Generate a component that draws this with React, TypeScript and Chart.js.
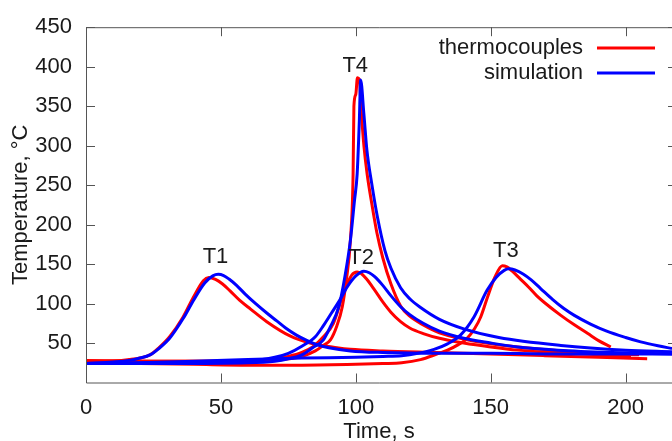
import React, { useEffect, useRef } from "react";
import { Chart, registerables } from "chart.js";

Chart.register(...registerables);

const FONT = '"Liberation Sans", Arial, Helvetica, sans-serif';
const TEXT = "#1a1a1a";
const FRAME = "#555555";

// axis ticks
const xTicks = [0, 50, 100, 150, 200];
const yTicks = [50, 100, 150, 200, 250, 300, 350, 400, 450];

// legend names
const seriesNames = ["thermocouples", "simulation"];
const seriesColors = ["#ff0000", "#0000ff"];

// annotation labels (data coordinates)
const annoNames = ["T1", "T2", "T3", "T4"];
const annoT = [48, 102, 155.6, 99.8];
const annoV = [159, 158, 166, 401];

// thermocouples (red)
const tRed1 = [0, 10, 16, 20, 23.7, 27, 31, 36, 39.8, 43.5, 45.5, 48, 50.5, 53.4, 57, 61, 67, 75.6, 83, 93, 98, 110, 130, 150, 170, 190, 208];
const vRed1 = [27, 27, 29, 31, 35, 44, 58, 83, 108, 129, 133, 130.5, 125, 116, 104, 93, 77, 59, 50, 44, 42, 40, 38, 36, 34, 32, 30];

const tRed2 = [0, 30, 60, 70, 75, 80, 84, 88, 91.7, 95.4, 98.5, 100.5, 102, 104, 107, 110, 113, 116.6, 120, 125, 131, 140, 150, 160, 180, 202];
const vRed2 = [27, 27, 28, 30, 33, 38, 45, 58, 75, 113, 136, 140, 138, 131, 117, 102, 89, 77, 69, 62, 56, 50, 45, 41, 37, 33];

const tRed3 = [0, 20, 40, 60, 80, 100, 110, 117, 124, 130, 134, 138, 141, 144, 146.3, 149, 151.5, 154.3, 156, 158, 161, 164, 167, 170, 176, 181, 186, 190, 194.5];
const vRed3 = [25, 24, 23, 22, 22, 23, 24, 25, 29, 36, 41, 48, 55, 68, 83, 110, 133, 148, 146.5, 141, 131, 121, 110, 101, 85, 73, 62, 53, 45];

const tRed4 = [0, 30, 60, 70, 75, 80, 85, 88, 90.6, 93, 95, 96.5, 98, 99, 99.3, 100, 100.6, 101.3, 102, 103, 104.2, 106, 107.8, 110, 113, 116.6, 120, 125, 131, 140, 150, 160, 180, 205];
const vRed4 = [28, 27, 27, 28, 30, 33, 40, 47, 54, 72, 96, 130, 180, 264, 350, 365, 386, 384, 345, 300, 264, 225, 190, 158, 125, 97, 84, 73, 63, 55, 49, 45, 39, 35];

// simulation (blue)
const tBlue1 = [0, 10, 16, 20, 23.7, 27, 31, 36, 40, 44, 47, 49, 51, 53, 55.8, 59, 63, 67, 70.7, 74, 78, 82, 85.5, 90, 98, 110, 130, 150, 180, 217.2];
const vBlue1 = [24, 26, 28, 31, 35, 43, 56, 81, 105, 126, 135, 137, 135.5, 131, 123, 112, 99.5, 88, 78, 69, 60, 53, 48, 44, 40, 38, 37, 37, 36, 36];

const tBlue2 = [0, 30, 60, 70, 75, 80, 85, 88, 91, 94, 97, 100, 103, 105, 107, 110, 113, 116.6, 120, 125, 131, 140, 150, 160, 175, 195, 217.2];
const vBlue2 = [24, 25, 27, 32, 37, 46, 58, 72, 88, 104, 122, 135, 141, 139, 134, 123, 110, 96, 86, 75, 65, 56, 50, 45, 41, 38, 36];

const tBlue3 = [0, 20, 40, 60, 80, 100, 110, 117, 123, 129, 134, 138.8, 143.8, 148.7, 152, 155, 156.8, 159, 162, 165, 168.5, 173, 177, 181, 187, 193, 200, 205.6, 212, 217.2];
const vBlue3 = [24, 25, 27, 29, 31, 32, 33, 34, 37, 42, 49, 60, 83, 117, 133, 142, 144, 142.5, 137.5, 130, 119, 105, 94, 85, 74, 65, 57, 51.5, 46.5, 43];

const tBlue4 = [0, 30, 60, 70, 75, 80, 84, 88, 90.5, 93.7, 96, 98, 99.5, 100.5, 101.3, 101.8, 103, 104.1, 106, 108, 110.8, 113, 116.6, 120, 124, 131, 140, 153, 176, 200, 217.2];
const vBlue4 = [24, 24, 25, 27, 30, 35, 44, 54, 70, 96, 135, 180, 230, 264, 330, 383, 340, 295, 250, 210, 167, 145, 120, 106, 95, 80, 68, 57, 47, 41, 39];

const redSeries = [
  [tRed1, vRed1],
  [tRed2, vRed2],
  [tRed3, vRed3],
  [tRed4, vRed4],
];
const blueSeries = [
  [tBlue1, vBlue1],
  [tBlue2, vBlue2],
  [tBlue3, vBlue3],
  [tBlue4, vBlue4],
];

const toPoints = (t: number[], v: number[]) => t.map((x, i) => ({ x, y: v[i] }));

const framePlugin = {
  id: "frame",
  afterDraw(chart: any) {
    const { ctx, chartArea, scales } = chart;
    const { left, right, top, bottom } = chartArea;
    const xs = scales.x;
    const ys = scales.y;
    const tick = 9;
    ctx.save();
    ctx.strokeStyle = FRAME;
    ctx.lineWidth = 1;
    ctx.beginPath();
    ctx.moveTo(left + 0.5, top + 0.5);
    ctx.lineTo(left + 0.5, bottom + 0.5);
    ctx.lineTo(right, bottom + 0.5);
    ctx.moveTo(left + 0.5, top + 0.5);
    ctx.lineTo(right, top + 0.5);
    for (const v of yTicks) {
      const y = Math.round(ys.getPixelForValue(v)) + 0.5;
      ctx.moveTo(left, y);
      ctx.lineTo(left + tick, y);
      ctx.moveTo(right - 4, y);
      ctx.lineTo(right, y);
    }
    for (const v of xTicks) {
      const x = Math.round(xs.getPixelForValue(v)) + 0.5;
      ctx.moveTo(x, bottom);
      ctx.lineTo(x, bottom - tick);
      ctx.moveTo(x, top);
      ctx.lineTo(x, top + tick);
    }
    ctx.stroke();

    ctx.fillStyle = TEXT;
    ctx.font = `22px ${FONT}`;
    ctx.textAlign = "center";
    ctx.textBaseline = "middle";
    annoNames.forEach((n, i) => {
      ctx.fillText(n, xs.getPixelForValue(annoT[i]), ys.getPixelForValue(annoV[i]));
    });

    const textRight = 583;
    const lineStart = 597;
    const lineEnd = 655;
    const rows = [48, 73];
    ctx.textAlign = "right";
    seriesNames.forEach((n, i) => {
      ctx.fillStyle = TEXT;
      ctx.fillText(n, textRight, rows[i] - 0.5);
      ctx.strokeStyle = seriesColors[i];
      ctx.lineWidth = 3;
      ctx.beginPath();
      ctx.moveTo(lineStart, rows[i]);
      ctx.lineTo(lineEnd, rows[i]);
      ctx.stroke();
    });
    ctx.restore();
  },
};

export default function App() {
  const ref = useRef<HTMLCanvasElement | null>(null);

  useEffect(() => {
    document.body.style.margin = "0";
    document.body.style.overflow = "hidden";
    const canvas = ref.current;
    if (!canvas) return;

    const datasets: any[] = [];
    blueSeries.forEach(([t, v], i) => {
      datasets.push({
        label: `${seriesNames[1]} T${i + 1}`,
        data: toPoints(t, v),
        borderColor: seriesColors[1],
        borderWidth: 3,
        pointRadius: 0,
        fill: false,
        cubicInterpolationMode: "monotone",
        order: 1,
      });
    });
    redSeries.forEach(([t, v], i) => {
      datasets.push({
        label: `${seriesNames[0]} T${i + 1}`,
        data: toPoints(t, v),
        borderColor: seriesColors[0],
        borderWidth: 3,
        pointRadius: 0,
        fill: false,
        cubicInterpolationMode: "monotone",
        order: 2,
      });
    });

    const chart = new Chart(canvas, {
      type: "line",
      data: { datasets },
      options: {
        animation: false,
        responsive: false,
        devicePixelRatio: 1,
        layout: { padding: { top: 25, right: 0, bottom: 0, left: 0 } },
        plugins: {
          legend: { display: false },
          tooltip: { enabled: false },
        },
        scales: {
          x: {
            type: "linear",
            min: 0,
            max: 217.2,
            afterBuildTicks: (s: any) => {
              s.ticks = xTicks.map((value) => ({ value }));
            },
            afterFit: (s: any) => {
              s.height = 58.5;
            },
            grid: { display: false, drawTicks: false },
            border: { display: false },
            ticks: {
              color: TEXT,
              font: { family: FONT, size: 22 },
              padding: 12,
              maxRotation: 0,
            },
            title: {
              display: true,
              text: "Time, s",
              color: TEXT,
              font: { family: FONT, size: 22 },
              padding: { top: 0, bottom: -4 },
            },
          },
          y: {
            type: "linear",
            min: 0,
            max: 450,
            afterBuildTicks: (s: any) => {
              s.ticks = yTicks.map((value) => ({ value }));
            },
            afterFit: (s: any) => {
              s.width = 86;
            },
            grid: { display: false, drawTicks: false },
            border: { display: false },
            ticks: {
              color: TEXT,
              font: { family: FONT, size: 22 },
              padding: 14,
            },
            title: {
              display: true,
              text: "Temperature, °C",
              color: TEXT,
              font: { family: FONT, size: 22 },
              padding: { top: 8, bottom: 0 },
            },
          },
        },
      },
      plugins: [framePlugin],
    });

    return () => chart.destroy();
  }, []);

  return (
    <div style={{ width: 672, height: 441 }}>
      <canvas ref={ref} width={672} height={441} style={{ width: 672, height: 441, display: "block" }} />
    </div>
  );
}
